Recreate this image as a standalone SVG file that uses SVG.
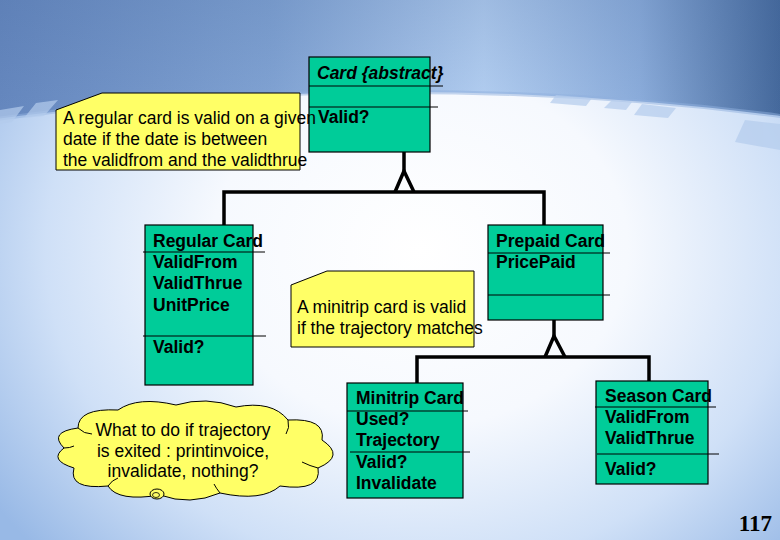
<svg xmlns="http://www.w3.org/2000/svg" width="780" height="540" viewBox="0 0 780 540">
<defs>
<linearGradient id="sky" x1="0" y1="0" x2="1" y2="0">
<stop offset="0" stop-color="#6789c0"/>
<stop offset="0.35" stop-color="#84a6d6"/>
<stop offset="0.62" stop-color="#b8d3f5"/>
<stop offset="0.82" stop-color="#8fb0de"/>
<stop offset="1" stop-color="#45699c"/>
</linearGradient>
<linearGradient id="skyV" x1="0" y1="0" x2="0" y2="1">
<stop offset="0" stop-color="#3c5f95" stop-opacity="0.2"/>
<stop offset="1" stop-color="#3c5f95" stop-opacity="0"/>
</linearGradient>
<radialGradient id="floor" gradientUnits="userSpaceOnUse" cx="420" cy="250" r="520" gradientTransform="translate(420 250) scale(1 0.85) translate(-420 -250)">
<stop offset="0" stop-color="#ffffff"/>
<stop offset="0.4" stop-color="#f6f9fe"/>
<stop offset="0.72" stop-color="#cfe0f7"/>
<stop offset="1" stop-color="#98b9e6"/>
</radialGradient>
<style>
.box{fill:#00cc99;stroke:#000;stroke-width:1.2}
.sep{stroke:#000;stroke-width:1;fill:none}
.note{fill:#ffff66;stroke:#000;stroke-width:1}
.t{font-family:"Liberation Sans",Arial,sans-serif;font-size:17.5px;fill:#000}
.b{font-weight:bold}
.con{stroke:#000;stroke-width:3.5;fill:none}
</style>
</defs>
<g id="background">
<rect width="780" height="540" fill="url(#sky)"/>
<rect width="780" height="140" fill="url(#skyV)"/>
<ellipse cx="400" cy="640" rx="1300" ry="548" fill="url(#floor)" stroke="#8fb0de" stroke-width="4" stroke-opacity="0.5"/>
<g fill="#b4cced" opacity="0.7">
<polygon points="0,110 24,106 12,122 0,124"/>
<polygon points="36,103 58,100 44,116 24,118"/>
<polygon points="556,95 592,98 586,106 550,103"/>
<polygon points="612,100 632,102 626,110 604,108"/>
<polygon points="642,104 676,108 668,118 634,115"/>
<polygon points="745,120 780,124 780,150 735,142"/>
</g>
</g>

<g id="connectors">
<path class="con" d="M404,152 V171"/>
<polyline class="con" points="395,192 404,171 414,192" stroke-linejoin="miter"/>
<path class="con" d="M224,225 V192 H544 V225"/>
<path class="con" d="M554,320 V336"/>
<polyline class="con" points="545,357 554,336 565,357"/>
<path class="con" d="M417,383 V357 H649 V381"/>
</g>

<g id="card">
<rect class="box" x="309" y="57" width="121" height="95"/>
<line class="sep" x1="309" y1="86" x2="443" y2="86"/>
<line class="sep" x1="309" y1="107" x2="438" y2="107"/>
<text class="t b" x="317" y="79" font-style="italic">Card {abstract}</text>
<text class="t b" x="318" y="123">Valid?</text>
</g>

<g id="note-regular">
<polygon class="note" points="56,110 102,93 300,93 300,170 56,170"/>
<text class="t" x="63" y="124">A regular card is valid on a given</text>
<text class="t" x="63" y="145">date if the date is between</text>
<text class="t" x="63" y="166">the validfrom and the validthrue</text>
</g>

<g id="regular-card">
<rect class="box" x="145" y="225" width="108" height="160"/>
<line class="sep" x1="143" y1="252" x2="265" y2="252"/>
<line class="sep" x1="143" y1="336" x2="266" y2="336"/>
<text class="t b" x="153" y="247">Regular Card</text>
<text class="t b" x="153" y="268">ValidFrom</text>
<text class="t b" x="153" y="289">ValidThrue</text>
<text class="t b" x="153" y="311">UnitPrice</text>
<text class="t b" x="153" y="353">Valid?</text>
</g>

<g id="prepaid-card">
<rect class="box" x="488" y="225" width="115" height="95"/>
<line class="sep" x1="488" y1="253" x2="610" y2="253"/>
<line class="sep" x1="488" y1="295" x2="610" y2="295"/>
<text class="t b" x="496" y="247">Prepaid Card</text>
<text class="t b" x="496" y="268">PricePaid</text>
</g>

<g id="note-minitrip">
<polygon class="note" points="291,285 327,271 474,271 474,347 291,347"/>
<text class="t" x="297" y="313">A minitrip card is valid</text>
<text class="t" x="297" y="334">if the trajectory matches</text>
</g>

<g id="minitrip-card">
<rect class="box" x="347" y="383" width="116" height="115"/>
<line class="sep" x1="347" y1="411" x2="468" y2="411"/>
<line class="sep" x1="350" y1="452" x2="470" y2="452"/>
<text class="t b" x="356" y="404">Minitrip Card</text>
<text class="t b" x="356" y="425">Used?</text>
<text class="t b" x="356" y="446">Trajectory</text>
<text class="t b" x="356" y="468">Valid?</text>
<text class="t b" x="356" y="489">Invalidate</text>
</g>

<g id="season-card">
<rect class="box" x="596" y="381" width="112" height="103"/>
<line class="sep" x1="595" y1="407" x2="716" y2="407"/>
<line class="sep" x1="597" y1="454" x2="719" y2="454"/>
<text class="t b" x="605" y="402">Season Card</text>
<text class="t b" x="605" y="423">ValidFrom</text>
<text class="t b" x="605" y="444">ValidThrue</text>
<text class="t b" x="605" y="475">Valid?</text>
</g>

<g id="cloud">
<path class="note" stroke-width="1.2" d="M78,428 Q78,408 118,410 Q138,396 176,405 Q206,396 236,407 Q272,400 288,420 Q326,418 322,440 Q346,456 318,468 Q322,492 280,486 Q262,502 220,493 Q190,506 160,495 Q118,502 108,486 Q68,490 74,468 Q48,460 64,448 Q48,432 78,428 Z"/>
<path class="sep" d="M78,428 Q84,434 92,434 M288,420 Q290,428 286,434 M318,468 Q310,466 302,462 M220,493 Q216,488 214,484 M108,486 Q112,480 118,478 M64,448 Q70,448 74,446"/>
<ellipse cx="157" cy="494" rx="7" ry="5" fill="#ffff66" stroke="#000" stroke-width="1"/>
<ellipse cx="156" cy="495" rx="3.5" ry="2.5" fill="none" stroke="#000" stroke-width="0.8"/>
<text class="t" x="183" y="436" text-anchor="middle">What to do if trajectory</text>
<text class="t" x="183" y="457" text-anchor="middle">is exited : printinvoice,</text>
<text class="t" x="183" y="477" text-anchor="middle">invalidate, nothing?</text>
</g>

<text id="page-number" x="772" y="531" text-anchor="end" font-family="'Liberation Serif','Times New Roman',serif" font-weight="bold" font-size="23" fill="#000">117</text>
</svg>
